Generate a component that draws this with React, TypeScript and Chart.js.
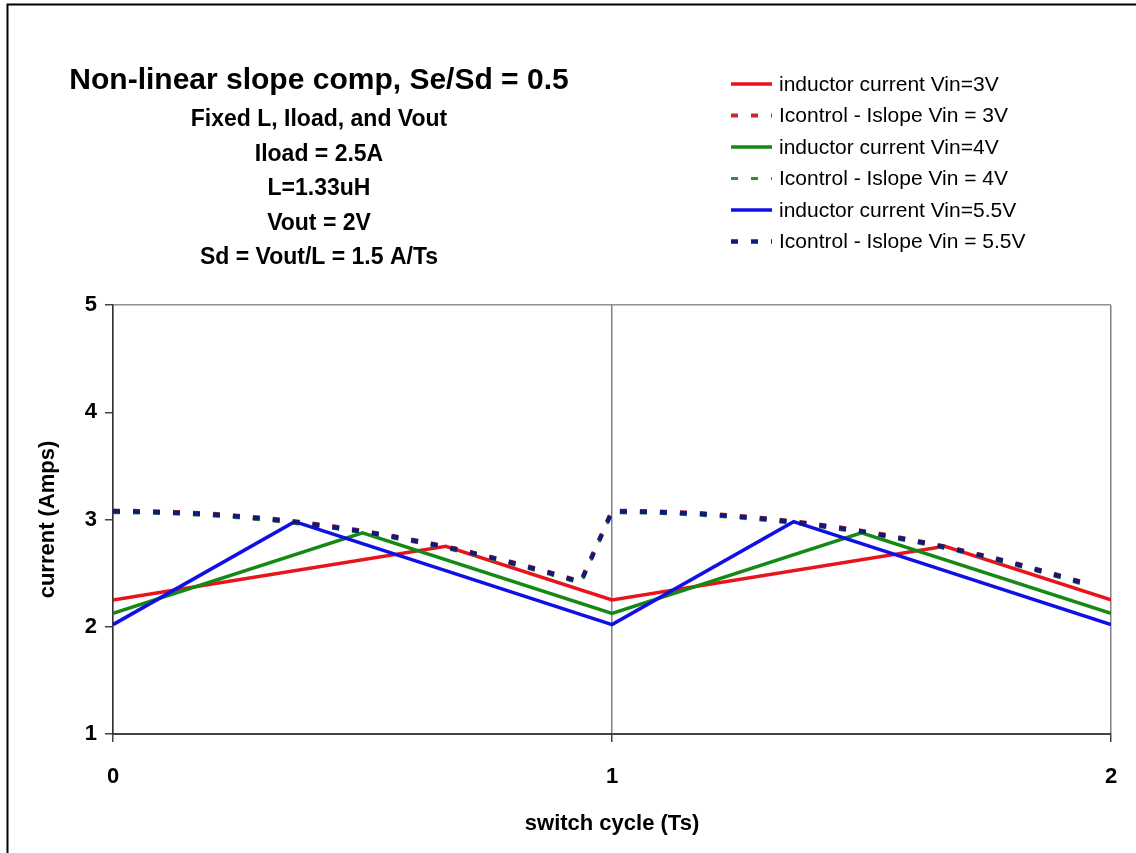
import React, { useEffect, useRef } from "react";
import { Chart, registerables } from "chart.js";

Chart.register(...registerables);

const FONT = '"Liberation Sans", Arial, sans-serif';

const titleText = "Non-linear slope comp, Se/Sd = 0.5";
const subtitleLines = [
  "Fixed L, Iload, and Vout",
  "Iload = 2.5A",
  "L=1.33uH",
  "Vout = 2V",
  "Sd = Vout/L = 1.5 A/Ts",
];

const xAxisTitle = "switch cycle (Ts)";
const yAxisTitle = "current (Amps)";

const legendLabels = [
  "inductor current Vin=3V",
  "Icontrol - Islope Vin = 3V",
  "inductor current Vin=4V",
  "Icontrol - Islope Vin = 4V",
  "inductor current Vin=5.5V",
  "Icontrol - Islope Vin = 5.5V",
];

// inductor current (solid) series
const inductorX3 = [0, 0.667, 1, 1.667, 2];
const inductorY3 = [2.25, 2.75, 2.25, 2.75, 2.25];
const inductorX4 = [0, 0.5, 1, 1.5, 2];
const inductorY4 = [2.125, 2.875, 2.125, 2.875, 2.125];
const inductorX55 = [0, 0.364, 1, 1.364, 2];
const inductorY55 = [2.02, 2.98, 2.02, 2.98, 2.02];

// Icontrol - Islope (dashed) series
const slopeX = [
  0, 0.0625, 0.125, 0.1875, 0.25, 0.3125, 0.375, 0.4375, 0.5, 0.5625, 0.625, 0.6875, 0.75, 0.8125, 0.875, 0.9375,
  1, 1.0625, 1.125, 1.1875, 1.25, 1.3125, 1.375, 1.4375, 1.5, 1.5625, 1.625, 1.6875, 1.75, 1.8125, 1.875, 1.9375,
];
const slopeY3 = [
  3.083, 3.08, 3.071, 3.057, 3.036, 3.01, 2.978, 2.94, 2.896, 2.846, 2.79, 2.729, 2.661, 2.588, 2.509, 2.424,
  3.083, 3.08, 3.071, 3.057, 3.036, 3.01, 2.978, 2.94, 2.896, 2.846, 2.79, 2.729, 2.661, 2.588, 2.509, 2.424,
];
const slopeY4 = [
  3.063, 3.06, 3.051, 3.036, 3.016, 2.989, 2.957, 2.919, 2.875, 2.825, 2.77, 2.708, 2.641, 2.567, 2.488, 2.403,
  3.063, 3.06, 3.051, 3.036, 3.016, 2.989, 2.957, 2.919, 2.875, 2.825, 2.77, 2.708, 2.641, 2.567, 2.488, 2.403,
];
const slopeY55 = [
  3.076, 3.073, 3.064, 3.05, 3.029, 3.003, 2.971, 2.932, 2.889, 2.839, 2.783, 2.722, 2.654, 2.581, 2.502, 2.417,
  3.076, 3.073, 3.064, 3.05, 3.029, 3.003, 2.971, 2.932, 2.889, 2.839, 2.783, 2.722, 2.654, 2.581, 2.502, 2.417,
];

const xTicks = [0, 1, 2];
const yTicks = [1, 2, 3, 4, 5];

const pts = (xs: number[], ys: number[]) => xs.map((x, i) => ({ x, y: ys[i] }));

const overlayPlugin = {
  id: "overlay",
  afterDraw(chart: any) {
    const ctx = chart.ctx;
    ctx.save();
    // outer frame
    ctx.strokeStyle = "#000";
    ctx.lineWidth = 2;
    ctx.beginPath();
    ctx.moveTo(7.5, 853);
    ctx.lineTo(7.5, 4.5);
    ctx.lineTo(1136, 4.5);
    ctx.stroke();

    // titles
    ctx.fillStyle = "#000";
    ctx.textAlign = "center";
    ctx.textBaseline = "middle";
    ctx.font = `bold 30px ${FONT}`;
    ctx.fillText(titleText, 319, 81);
    ctx.font = `bold 23px ${FONT}`;
    subtitleLines.forEach((s, i) => ctx.fillText(s, 319, 120 + i * 34.5));

    // legend
    ctx.textAlign = "left";
    ctx.font = `21px ${FONT}`;
    chart.data.datasets.forEach((ds: any, i: number) => {
      const y = 84 + i * 31.5;
      ctx.save();
      ctx.strokeStyle = ds.borderColor;
      ctx.lineWidth = ds.borderWidth;
      ctx.setLineDash(ds.borderDash || []);
      ctx.lineCap = "butt";
      ctx.beginPath();
      ctx.moveTo(731, y);
      ctx.lineTo(772, y);
      ctx.stroke();
      ctx.restore();
      ctx.fillStyle = "#000";
      ctx.fillText(ds.label, 779, y + 1);
    });
    ctx.restore();
  },
};

export default function App() {
  const ref = useRef<HTMLCanvasElement | null>(null);

  useEffect(() => {
    if (!ref.current) return;
    const dash = [7, 13];
    const mk = (label: string, data: any[], color: string, width: number, dashed: boolean, order: number) => ({
      label,
      data,
      borderColor: color,
      backgroundColor: color,
      borderWidth: width,
      borderDash: dashed ? dash : [],
      borderCapStyle: "butt",
      showLine: true,
      pointRadius: 0,
      pointHoverRadius: 0,
      fill: false,
      tension: 0,
      order,
    });
    const chart = new Chart(ref.current, {
      type: "scatter",
      data: {
        datasets: [
          mk(legendLabels[0], pts(inductorX3, inductorY3), "#E8141C", 3.5, false, 5),
          mk(legendLabels[1], pts(slopeX, slopeY3), "#C82830", 4, true, 4),
          mk(legendLabels[2], pts(inductorX4, inductorY4), "#148A14", 3.5, false, 3),
          mk(legendLabels[3], pts(slopeX, slopeY4), "#3A8A3A", 3, true, 2),
          mk(legendLabels[4], pts(inductorX55, inductorY55), "#1010E6", 3.5, false, 1),
          mk(legendLabels[5], pts(slopeX, slopeY55), "#101A78", 4.5, true, 0),
        ] as any,
      },
      options: {
        responsive: false,
        animation: false,
        layout: { padding: { top: 305, right: 25, bottom: 0, left: 0 } },
        plugins: {
          legend: { display: false },
          title: { display: false },
          tooltip: { enabled: false },
        },
        scales: {
          x: {
            type: "linear",
            min: 0,
            max: 2,
            afterFit: (s: any) => {
              s.height = 119;
              s.paddingLeft = 0;
              s.paddingRight = 0;
            },
            afterBuildTicks: (s: any) => {
              s.ticks = xTicks.map((v) => ({ value: v }));
            },
            ticks: {
              stepSize: 1,
              color: "#000",
              padding: 22,
              font: { family: FONT, size: 22, weight: "bold" },
            },
            grid: {
              color: "#808080",
              lineWidth: 1.5,
              tickLength: 8,
              tickColor: "#444",
              tickWidth: 1.5,
            },
            border: { display: true, color: "#444", width: 2 },
            title: {
              display: true,
              text: xAxisTitle,
              color: "#000",
              padding: { top: 16, bottom: 16 },
              font: { family: FONT, size: 22, weight: "bold" },
            },
          },
          y: {
            type: "linear",
            min: 1,
            max: 5,
            afterFit: (s: any) => {
              s.width = 113;
            },
            afterBuildTicks: (s: any) => {
              s.ticks = yTicks.map((v) => ({ value: v }));
            },
            ticks: {
              stepSize: 1,
              color: "#000",
              padding: 8,
              font: { family: FONT, size: 22, weight: "bold" },
            },
            grid: {
              color: (c: any) => (c.tick && c.tick.value === 5 ? "#909090" : "rgba(0,0,0,0)"),
              lineWidth: 1.5,
              tickLength: 8,
              tickColor: "#444",
              tickWidth: 1.5,
            },
            border: { display: true, color: "#333", width: 1.5 },
            title: {
              display: true,
              text: yAxisTitle,
              color: "#000",
              padding: { top: 35, bottom: 0 },
              font: { family: FONT, size: 22, weight: "bold" },
            },
          },
        },
      },
      plugins: [overlayPlugin],
    });
    return () => chart.destroy();
  }, []);

  return (
    <div style={{ position: "absolute", left: 0, top: 0, width: 1136, height: 853, background: "#fff" }}>
      <canvas ref={ref} width={1136} height={853} style={{ width: 1136, height: 853, display: "block" }} />
    </div>
  );
}
